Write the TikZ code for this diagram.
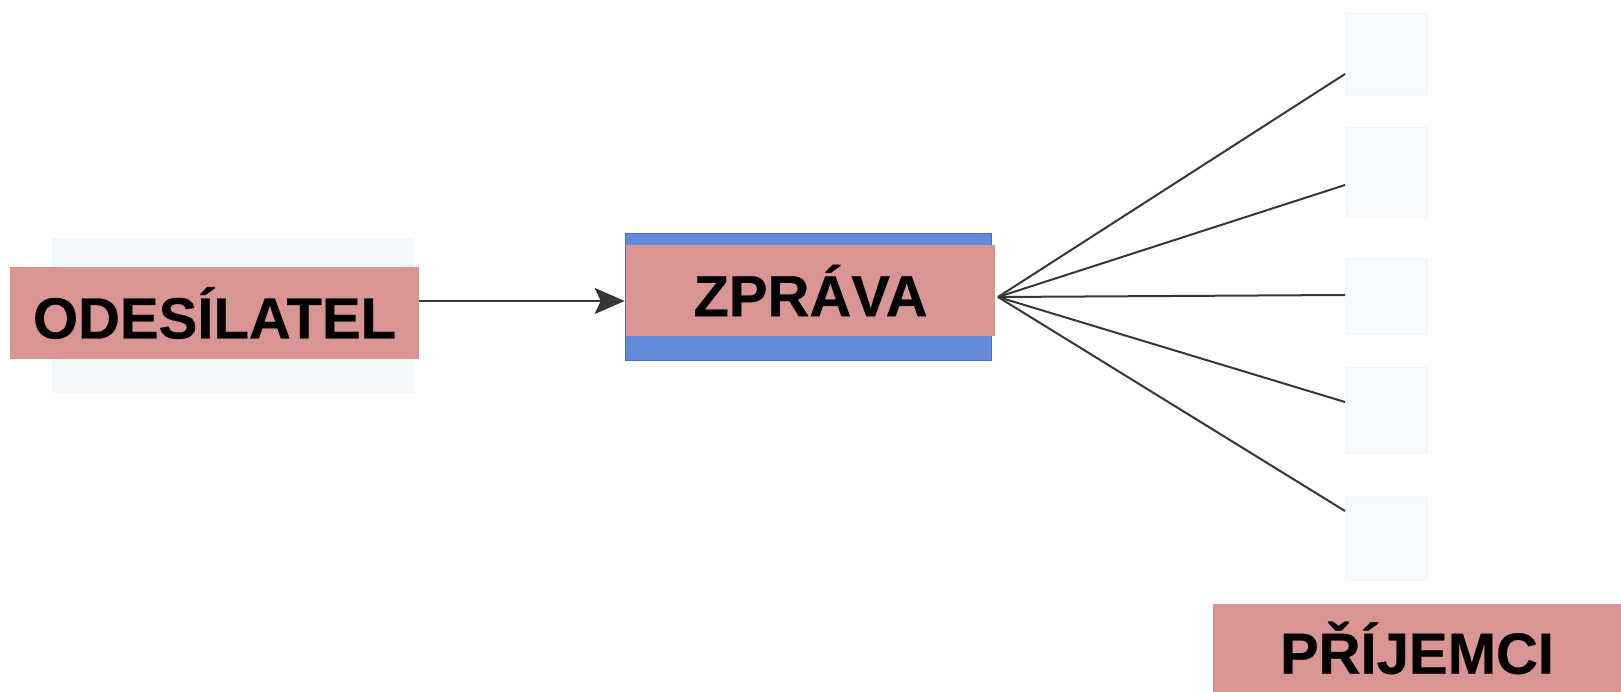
\documentclass[tikz,border=0pt]{standalone}
\usepackage{fontspec}
\setmainfont{Liberation Sans}
\newfontfamily\heavyfont[FakeBold=0.5]{Liberation Sans Bold}
\usetikzlibrary{arrows.meta,positioning}
\definecolor{pinkbox}{RGB}{217,149,148}
\definecolor{bluebox}{RGB}{100,136,218}
\definecolor{paleblue}{RGB}{242,248,252}
\definecolor{palerblue}{RGB}{245,250,253}
\definecolor{linegray}{RGB}{55,55,55}
\tikzset{
  label box/.style={fill=pinkbox, inner sep=0pt, font=\fontsize{58}{60}\heavyfont, text=black, anchor=center},
  faint box/.style={fill=palerblue, draw=gray!8, inner sep=0pt},
  connector/.style={draw=linegray, line width=2pt},
}
\begin{document}
\begin{tikzpicture}[x=1pt,y=-1pt]
\useasboundingbox[fill=white] (0,0) rectangle (1621,692);
% faint shadow behind sender
\fill[paleblue] (52,238) rectangle (414,393);
% faint receiver squares
\node[faint box, minimum width=82pt, minimum height=82pt] (r1) at (1386,54) {};
\node[faint box, minimum width=82pt, minimum height=90pt] (r2) at (1386,172) {};
\node[faint box, minimum width=82pt, minimum height=76pt] (r3) at (1386,296) {};
\node[faint box, minimum width=82pt, minimum height=86pt] (r4) at (1386,410) {};
\node[faint box, minimum width=82pt, minimum height=84pt] (r5) at (1386,538) {};
% message box
\node[fill=bluebox, draw=bluebox!80!black, line width=0.6pt, minimum width=366pt, minimum height=127pt, inner sep=0pt] (zblue) at (808,296.5) {};
\node[label box, minimum width=369pt, minimum height=91pt] (zprava) at (810.5,290.5) {ZPRÁVA};
% sender
\node[label box, minimum width=409pt, minimum height=91pt] (odes) at (214.5,313) {ODESÍLATEL};
% receivers label
\node[label box, minimum width=409pt, minimum height=88pt] (prij) at (1417,648) {PŘÍJEMCI};
% arrow
\coordinate (ay) at (0,301);
\coordinate (astart) at (odes.east |- ay);
\coordinate (aend) at (zblue.west |- ay);
\draw[connector, line width=2.4pt, -{Stealth[length=30pt,width=26pt,inset=6pt]}] (astart) -- (aend);
% fan
\coordinate (fan) at (998,297);
\coordinate (e1) at (1345,74);
\coordinate (e2) at (1345,185);
\coordinate (e3) at (1345,295);
\coordinate (e4) at (1345,402);
\coordinate (e5) at (1345,511);
\foreach \i in {1,...,5} {\draw[connector] (fan) -- (e\i);}
\end{tikzpicture}
\end{document}
